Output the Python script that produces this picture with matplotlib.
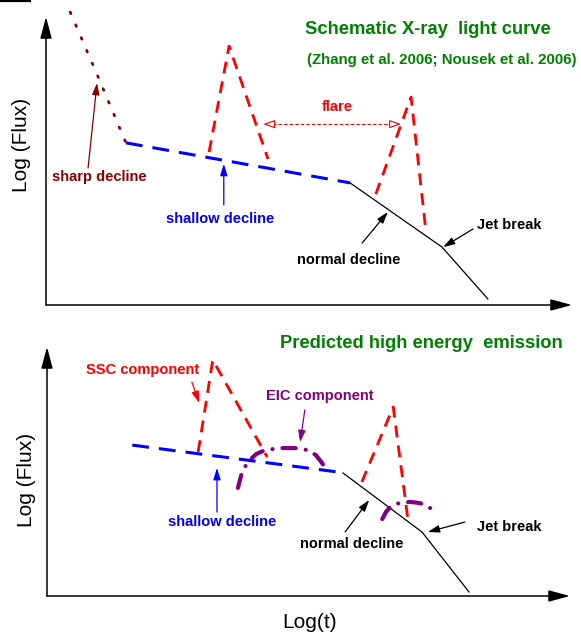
import matplotlib
matplotlib.use("Agg")
import matplotlib.pyplot as plt

plt.rcParams['font.family'] = ['Liberation Sans', 'DejaVu Sans']

# ---- schematic X-ray light curve (log t, log flux in arbitrary units) ----
sharp_t = [0.46, 0.99, 1.52]
sharp_f = [10.17, 7.92, 5.63]
shallow_t = [1.52, 5.78]
shallow_f = [5.63, 4.24]
normal_t = [5.78, 7.53, 8.40]
normal_f = [4.24, 2.01, 0.21]
flare1_t = [3.10, 3.48, 4.22]
flare1_f = [5.31, 8.99, 5.07]
flare2_t = [6.27, 6.94, 7.22]
flare2_f = [3.85, 7.22, 2.60]

# ---- predicted high energy emission ----
he_shallow_t = [1.63, 5.56]
he_shallow_f = [6.06, 4.98]
he_normal_t = [5.66, 7.17, 8.07]
he_normal_f = [4.94, 2.57, 0.16]
ssc1_t = [2.89, 3.17, 4.21]
ssc1_f = [5.78, 9.48, 5.58]
ssc2_t = [6.02, 6.62, 6.90]
ssc2_f = [4.58, 7.59, 3.09]
eic1_t = [3.65, 3.73, 3.84, 4.00, 4.17, 4.46, 4.74, 4.99, 5.14, 5.26, 5.37]
eic1_f = [4.34, 4.98, 5.38, 5.70, 5.86, 5.94, 5.94, 5.86, 5.66, 5.34, 4.94]
eic2_t = [6.41, 6.48, 6.58, 6.73, 6.94, 7.13, 7.28, 7.42]
eic2_f = [3.09, 3.37, 3.61, 3.73, 3.78, 3.73, 3.61, 3.37]

RED = '#ff0000'
BLUE = '#0000ff'
MAROON = '#8b0000'
GREEN = '#008000'
PURPLE = '#800080'

RED_DASH = (0, (4.3, 2.9))
BLUE_DASH = (0, (5.5, 3.3))

W, H = 581, 635
fig = plt.figure(figsize=(W / 100, H / 100), dpi=100)


def panel(left, right, bottom, top):
    ax = fig.add_axes([left / W, 1 - bottom / H, (right - left) / W, (bottom - top) / H])
    ax.set_xlim(0, 10)
    ax.set_ylim(0, 10)
    ax.axis('off')
    axis_arrow = dict(arrowstyle='-|>,head_length=1.3,head_width=0.35', color='black',
                      lw=1.1, mutation_scale=10, shrinkA=0, shrinkB=0)
    ax.annotate('', xy=(0, 1), xytext=(0, 0), xycoords='axes fraction',
                arrowprops=axis_arrow, annotation_clip=False)
    ax.annotate('', xy=(1, 0), xytext=(0, 0), xycoords='axes fraction',
                arrowprops=axis_arrow, annotation_clip=False)
    return ax


def pointer(ax, text, xy, xytext, color, tx, ty):
    ax.annotate('', xy=xy, xytext=xytext,
                arrowprops=dict(arrowstyle='-|>,head_length=0.7,head_width=0.22',
                                color=color, lw=0.9, mutation_scale=10,
                                shrinkA=0, shrinkB=0), annotation_clip=False)
    ax.text(tx, ty, text, color=color, fontsize=10.5, fontweight='bold',
            ha='center', va='center', clip_on=False)


# ---------------- top panel ----------------
ax1 = panel(46, 572, 305, 17)
ax1.plot(sharp_t, sharp_f, color=MAROON, lw=2.0, ls=(0, (0.6, 4.4)), clip_on=False,
         dash_capstyle='round')
ax1.plot(shallow_t, shallow_f, color=BLUE, lw=2.2, ls=BLUE_DASH)
ax1.plot(normal_t, normal_f, color='black', lw=0.9)
ax1.plot(flare1_t, flare1_f, color=RED, lw=2.0, ls=RED_DASH)
ax1.plot(flare2_t, flare2_f, color=RED, lw=2.0, ls=RED_DASH)

# flare interval
ax1.plot([4.2, 6.68], [6.28, 6.28], color=RED, lw=0.8, ls=(0, (3, 2)))
for tip, tail in (((4.13, 6.28), (4.35, 6.28)), ((6.75, 6.28), (6.53, 6.28))):
    ax1.annotate('', xy=tip, xytext=tail,
                 arrowprops=dict(arrowstyle='-|>,head_length=0.7,head_width=0.25',
                                 ec=RED, fc='white', lw=0.8, mutation_scale=10,
                                 shrinkA=0, shrinkB=0))
ax1.text(5.53, 6.88, 'flare', color=RED, fontsize=10.5, fontweight='bold',
         ha='center', va='center')

pointer(ax1, 'sharp decline', (0.97, 7.71), (0.80, 4.76), MAROON, 1.01, 4.44)
pointer(ax1, 'shallow decline', (3.38, 4.90), (3.38, 3.47), BLUE, 3.31, 2.99)
pointer(ax1, 'normal decline', (6.50, 3.23), (6.01, 2.15), 'black', 5.75, 1.56)
pointer(ax1, 'Jet break', (7.55, 2.01), (8.12, 2.64), 'black', 8.80, 2.78)

ax1.text(7.26, 9.55, 'Schematic X-ray  light curve', color=GREEN, fontsize=13.2,
         fontweight='bold', ha='center', va='center', clip_on=False)
ax1.text(7.52, 8.51, '(Zhang et al. 2006; Nousek et al. 2006)', color=GREEN,
         fontsize=10.8, fontweight='bold', ha='center', va='center', clip_on=False)

# ---------------- bottom panel ----------------
ax2 = panel(47, 570, 596, 347)
ax2.plot(he_shallow_t, he_shallow_f, color=BLUE, lw=2.2, ls=BLUE_DASH)
ax2.plot(he_normal_t, he_normal_f, color='black', lw=0.9)
ax2.plot(ssc1_t, ssc1_f, color=RED, lw=2.0, ls=RED_DASH)
ax2.plot(ssc2_t, ssc2_f, color=RED, lw=2.0, ls=RED_DASH)
for t, f in ((eic1_t, eic1_f), (eic2_t, eic2_f)):
    ax2.plot(t, f, color=PURPLE, lw=3.0, ls=(0, (3.2, 2.4, 0.01, 2.4)),
             dash_capstyle='round')

pointer(ax2, 'SSC component', (2.91, 7.75), (2.77, 8.59), RED, 1.83, 9.08)
pointer(ax2, 'EIC component', (4.84, 6.18), (4.93, 7.47), PURPLE, 5.22, 8.03)
pointer(ax2, 'shallow decline', (3.25, 5.14), (3.25, 3.37), BLUE, 3.34, 2.97)
pointer(ax2, 'normal decline', (6.16, 3.86), (5.70, 2.57), 'black', 5.83, 2.09)
pointer(ax2, 'Jet break', (7.28, 2.57), (7.99, 2.97), 'black', 8.84, 2.77)

ax2.text(7.15, 10.16, 'Predicted high energy  emission', color=GREEN, fontsize=13.2,
         fontweight='bold', ha='center', va='center', clip_on=False)

# axis titles
fig.text(22 / W, 1 - 145 / H, 'Log (Flux)', rotation=90, fontsize=15,
         ha='center', va='center')
fig.text(26 / W, 1 - 480 / H, 'Log (Flux)', rotation=90, fontsize=15,
         ha='center', va='center')
fig.text(310 / W, 1 - 622 / H, 'Log(t)', fontsize=15, ha='center', va='center')

# short rule along the top edge
fig.add_artist(plt.Line2D([0, 30 / W], [1 - 1 / H, 1 - 1 / H], color='black', lw=1.6))

fig.savefig('out.png', dpi=100, facecolor='white')
